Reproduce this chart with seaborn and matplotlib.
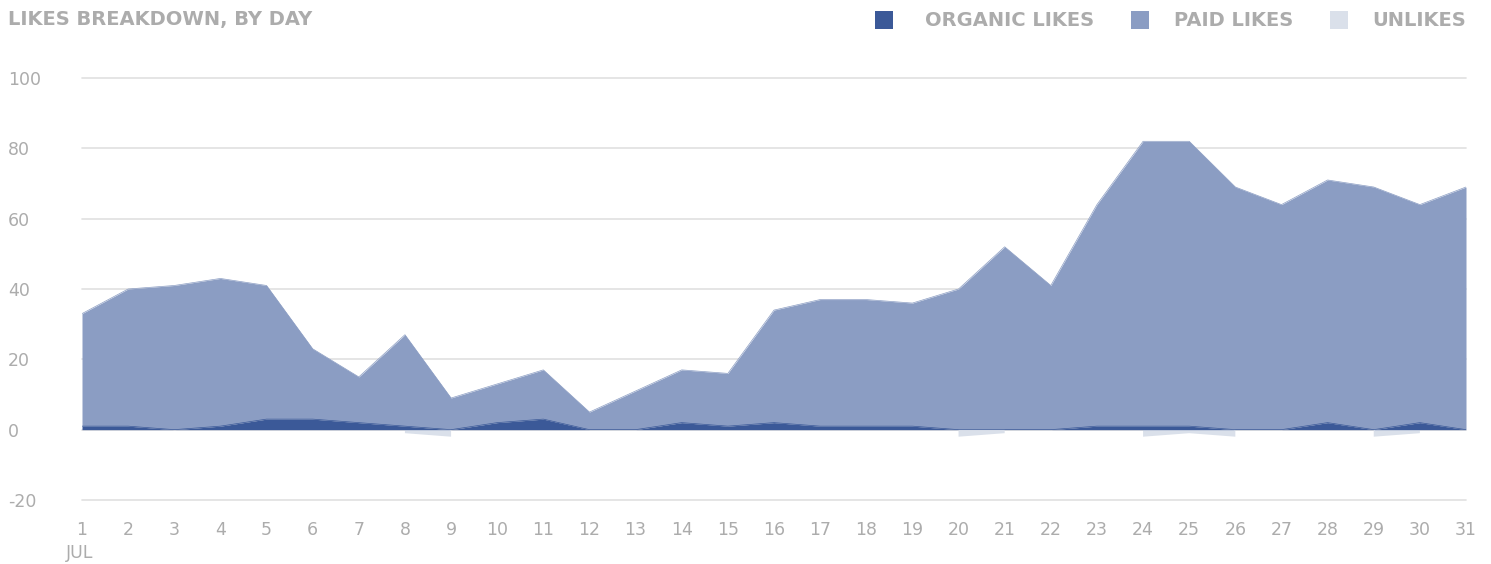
import numpy as np
import pandas as pd
import matplotlib
matplotlib.use("Agg")
import matplotlib.pyplot as plt
from matplotlib.patches import Rectangle
import seaborn as sns

days = list(range(1, 32))
organic = [1, 1, 0, 1, 3, 3, 2, 1, 0, 2, 3, 0, 0, 2, 1, 2, 1, 1, 1, 0, 0, 0, 1, 1, 1, 0, 0, 2, 0, 2, 0]
total = [33, 40, 41, 43, 41, 23, 15, 27, 9, 13, 17, 5, 11, 17, 16, 34, 37, 37, 36, 40, 52, 41, 64, 82, 82, 69, 64, 71, 69, 64, 69]
paid = [t - o for t, o in zip(total, organic)]
unlikes = [0, 0, 0, 0, 0, 0, 0, -1, -2, 0, 0, 0, 0, 0, 0, 0, 0, 0, 0, -2, -1, 0, 0, -2, -1, -2, 0, 0, -2, -1, 0]
y_ticks = [-20, 0, 20, 40, 60, 80, 100]
series_names = ["ORGANIC LIKES", "PAID LIKES", "UNLIKES"]
title = "LIKES BREAKDOWN, BY DAY"
month_label = "JUL"

c_org = "#3b5998"
c_paid = "#8b9dc3"
c_unl = "#dae0ea"
c_text = "#acacac"
c_grid = "#e0e0e0"

sns.set_theme(style="white")
plt.rcParams['font.family'] = ['DejaVu Sans']

df = pd.DataFrame({"day": days, "organic": organic, "paid": paid,
                   "total": total, "unlikes": unlikes})
df["stack"] = df["organic"] + df["paid"]
df["unl_plot"] = df["unlikes"].replace(0, np.nan)

fig = plt.figure(figsize=(14.91, 5.64), dpi=100)
ax = fig.add_axes([82 / 1491, 1 - 500 / 564, (1466 - 82) / 1491, (500 - 78) / 564])

for y in y_ticks:
    ax.axhline(y, color=c_grid, lw=1.2, zorder=0, clip_on=False)

ax.fill_between(df["day"], df["organic"], df["stack"], color=c_paid, lw=0, zorder=2)
ax.fill_between(df["day"], 0, df["organic"], color=c_org, lw=0, zorder=3)
ax.fill_between(df["day"], 0, df["unl_plot"], color=c_unl, lw=0, zorder=2)
sns.lineplot(data=df, x="day", y="stack", ax=ax, color=c_paid, lw=0.5, zorder=2)
sns.lineplot(data=df, x="day", y="organic", ax=ax, color=c_org, lw=0.5, zorder=3)

ax.set_xlim(1, 31)
ax.set_ylim(-20, 100)
ax.set_xlabel("")
ax.set_ylabel("")
for s in ax.spines.values():
    s.set_visible(False)

ax.set_yticks(y_ticks)
ax.set_yticklabels([str(v) for v in y_ticks], fontsize=12.5, color=c_text, ha="left")
ax.tick_params(axis="y", length=0, pad=(82 - 8) * 0.72)
ax.set_xticks(days)
ax.set_xticklabels([str(d) for d in days], fontsize=12.5, color=c_text)
ax.tick_params(axis="x", length=0, pad=15)

fig.text(80 / 1491, 1 - 553 / 564, month_label, fontsize=12.5, color=c_text,
         ha="center", va="center")

fig.text(8 / 1491, 1 - 20 / 564, title, fontsize=14, fontweight="bold",
         color=c_text, ha="left", va="center")

leg_items = [(875, 913, series_names[0], c_org),
             (1131, 1168, series_names[1], c_paid),
             (1330, 1367, series_names[2], c_unl)]
for sx, tx, label, col in leg_items:
    fig.patches.append(Rectangle((sx / 1491, 1 - 29 / 564), 18 / 1491, 18 / 564,
                                 transform=fig.transFigure, color=col, lw=0))
fig.text(1466 / 1491, 1 - 20 / 564, series_names[2], fontsize=14, fontweight="bold",
         color=c_text, ha="right", va="center")
fig.text(1293 / 1491, 1 - 20 / 564, series_names[1], fontsize=14, fontweight="bold",
         color=c_text, ha="right", va="center")
fig.text(1094 / 1491, 1 - 20 / 564, series_names[0], fontsize=14, fontweight="bold",
         color=c_text, ha="right", va="center")

fig.savefig("out.png", dpi=100)
